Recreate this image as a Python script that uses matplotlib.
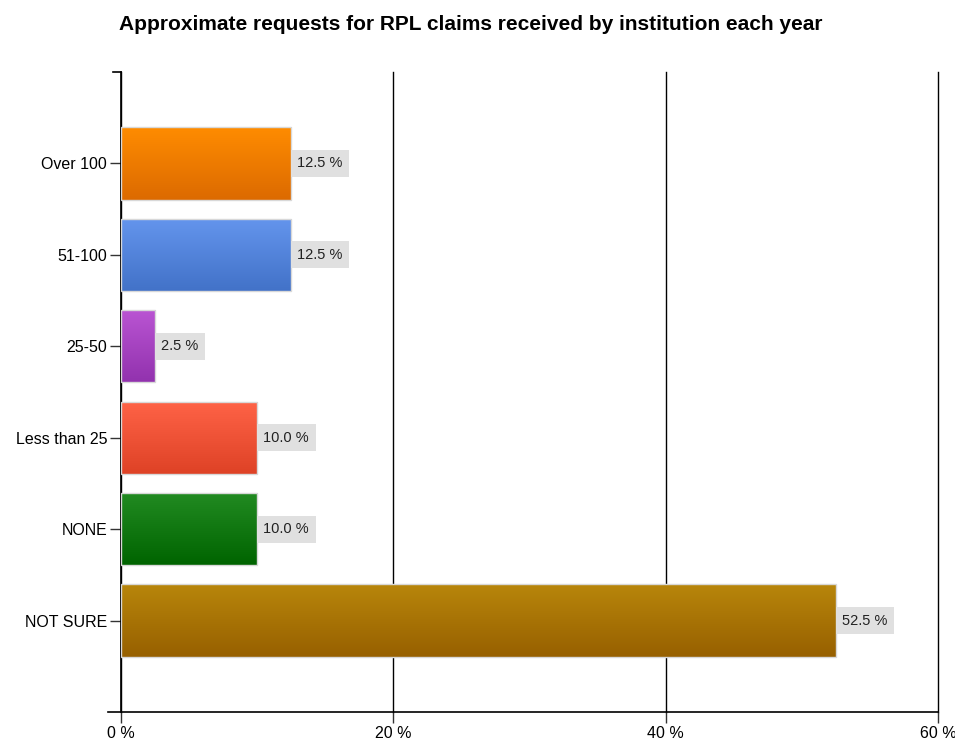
import numpy as np
import matplotlib.pyplot as plt
from matplotlib.colors import LinearSegmentedColormap

# survey answers, top to bottom as listed on the chart
categories = ['Over 100', '51-100', '25-50', 'Less than 25', 'NONE', 'NOT SURE']
percent = [12.5, 12.5, 2.5, 10.0, 10.0, 52.5]
top_colors = ['#ff8c00', '#6495ed', '#ba55d3', '#ff6347', '#228b22', '#b8860b']
bottom_colors = ['#dc6a00', '#4272c8', '#9232ae', '#de4226', '#006400', '#976000']
xticks = [0, 20, 40, 60]

plt.rcParams['font.family'] = ['Liberation Sans', 'DejaVu Sans']

fig = plt.figure(figsize=(9.55, 7.4), dpi=100)
ax = fig.add_axes([121/955, 28/740, 817/955, 640/740])

ypos = np.arange(len(categories))[::-1]
bars = ax.barh(ypos, percent, height=0.79, color='none', edgecolor='#d8d8d8',
               linewidth=1.0, zorder=3)

# vertical gradient fill for each bar
grad = np.linspace(0, 1, 256).reshape(-1, 1)
for bar, c0, c1 in zip(bars, top_colors, bottom_colors):
    cmap = LinearSegmentedColormap.from_list('g', [c0, c1])
    x0, y0 = bar.get_x(), bar.get_y()
    w, h = bar.get_width(), bar.get_height()
    im = ax.imshow(grad, cmap=cmap, aspect='auto', origin='lower',
                   extent=(x0, x0 + w, y0 + h, y0), zorder=2)
    im.set_clip_path(bar)

# value labels in grey boxes
for y, v in zip(ypos, percent):
    ax.annotate(f'{v:.1f} %', xy=(v, y), xytext=(4.5, 0), textcoords='offset points',
                va='center', ha='left', fontsize=10.5, color='#222222', zorder=4,
                bbox=dict(boxstyle='square,pad=0.45', fc='#e0e0e0', ec='none'))

ax.set_xlim(0, 60)
ax.set_ylim(-1, 6)
ax.set_xticks(xticks)
ax.set_xticklabels([f'{t} %' for t in xticks], fontsize=11.5)
ax.set_yticks(ypos)
ax.set_yticklabels(categories, fontsize=11.5)
ax.tick_params(axis='both', length=8, width=1, color='#333333', pad=2)
ax.xaxis.grid(True, color='black', linewidth=1)
for gl in ax.xaxis.get_gridlines():
    gl.set_clip_on(False)
ax.set_axisbelow(True)

for side in ['top', 'right']:
    ax.spines[side].set_visible(False)
ax.spines['left'].set_linewidth(1.2)
ax.spines['bottom'].set_linewidth(1.2)
ax.spines['bottom'].set_bounds(-0.95, 60)
ax.plot([-0.6, 0], [6, 6], color='black', lw=1.2, clip_on=False)

fig.text(471/955, 1 - 24/740, 'Approximate requests for RPL claims received by institution each year',
         ha='center', va='center', fontsize=15, fontweight='bold')

fig.savefig('out.png', dpi=100)
